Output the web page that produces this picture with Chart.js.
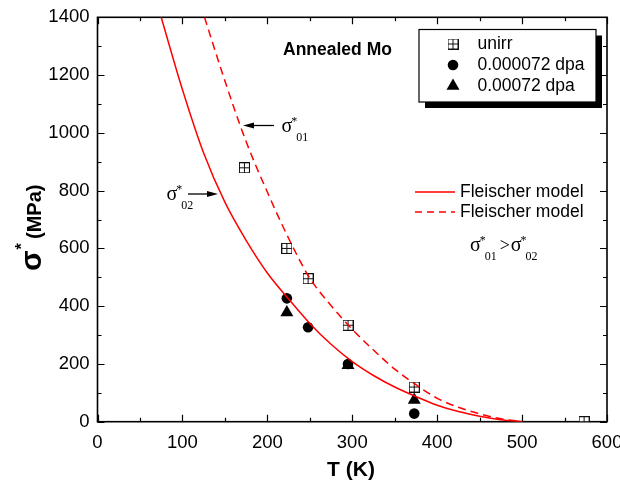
<!DOCTYPE html>
<html>
<head>
<meta charset="utf-8">
<script src="https://cdn.jsdelivr.net/npm/chart.js@4.4.0/dist/chart.umd.min.js"></script>
<style>
  html, body { margin: 0; padding: 0; background: #fff; }
  #wrap { width: 620px; height: 483px; }
</style>
</head>
<body>
<div id="wrap"><canvas id="grafico" width="620" height="483"></canvas></div>
<script>
// datos: T (K) y tension efectiva (MPa)
const unirrT = [173, 223, 248, 295, 373, 573];
const unirrS = [879, 600, 495, 334, 120, 0];
const dpa1T = [223, 248, 295, 373];          // 0.000072 dpa
const dpa1S = [427, 327, 200, 28];
const dpa2T = [223, 295, 373];               // 0.00072 dpa
const dpa2S = [378, 195, 75];

// modelo de Fleischer (sigma*02, linea continua)
const solidT = [75, 100, 125, 150, 175, 200, 225, 250, 275, 300, 325, 350, 375, 400, 425, 450, 475, 500];
const solidS = [1400, 1150, 930, 760, 628, 515, 425, 340, 268, 208, 160, 120, 87, 57, 35, 19, 7, 0];
// modelo de Fleischer (sigma*01, linea discontinua)
const dashT = [126, 150, 175, 200, 225, 250, 275, 300, 325, 350, 375, 400, 425, 450, 475, 500];
const dashS = [1400, 1180, 970, 795, 635, 497, 402, 320, 248, 182, 128, 81, 50, 27, 10, 0];

const xTicks = [0, 100, 200, 300, 400, 500, 600];
const yTicks = [0, 200, 400, 600, 800, 1000, 1200, 1400];
const legendLabels = ['unirr', '0.000072 dpa', '0.00072 dpa'];
const modelLabel = 'Fleischer model';

const pts = (xs, ys) => xs.map((t, i) => ({ x: t, y: ys[i] }));

// marcador "cuadrado con cruz"
function hacerCuadro() {
  const c = document.createElement('canvas');
  c.width = 11; c.height = 11;
  const g = c.getContext('2d');
  g.fillStyle = '#fff';
  g.fillRect(0, 0, 11, 11);
  g.strokeStyle = '#111';
  g.lineWidth = 1;
  g.strokeRect(0.5, 0.5, 10, 10);
  g.beginPath();
  g.moveTo(5.5, 0.5); g.lineTo(5.5, 10.5);
  g.moveTo(0.5, 5.5); g.lineTo(10.5, 5.5);
  g.stroke();
  return c;
}
const cuadro = hacerCuadro();

const SANS = 'Arial, "Liberation Sans", sans-serif';
const SERIF = '"Liberation Serif", "Times New Roman", serif';
Chart.defaults.font.family = SANS;
Chart.defaults.color = '#000';

function sigma(ctx, x, yb, sub) {
  ctx.textAlign = 'left';
  ctx.textBaseline = 'alphabetic';
  ctx.font = '20px ' + SERIF;
  ctx.fillText('σ', x, yb);
  const w = ctx.measureText('σ').width;
  ctx.font = '12px ' + SERIF;
  ctx.fillText('*', x + w - 1, yb - 7);
  ctx.fillText(sub, x + w + 4, yb + 9);
  return x + w + 4 + ctx.measureText(sub).width;
}

function flecha(ctx, x1, x2, y) {
  const d = x2 > x1 ? 1 : -1;
  ctx.lineWidth = 1.3;
  ctx.beginPath();
  ctx.moveTo(x1, y); ctx.lineTo(x2 - d * 8, y);
  ctx.stroke();
  ctx.beginPath();
  ctx.moveTo(x2, y);
  ctx.lineTo(x2 - d * 11, y - 3);
  ctx.lineTo(x2 - d * 11, y + 3);
  ctx.closePath();
  ctx.fill();
}

const marco = {
  id: 'marco',
  beforeDatasetsDraw(chart) {
    const { ctx, chartArea: a, scales: { x, y } } = chart;
    ctx.save();
    ctx.strokeStyle = '#000';
    ctx.lineWidth = 1.2;
    ctx.beginPath();
    for (let v = 0; v <= 600; v += 50) {
      const px = Math.round(x.getPixelForValue(v)) + 0.5;
      const len = v % 100 === 0 ? 7 : 4;
      ctx.moveTo(px, a.bottom); ctx.lineTo(px, a.bottom - len);
      ctx.moveTo(px, a.top); ctx.lineTo(px, a.top + len);
    }
    for (let v = 0; v <= 1400; v += 100) {
      const py = Math.round(y.getPixelForValue(v)) + 0.5;
      const len = v % 200 === 0 ? 7 : 4;
      ctx.moveTo(a.left, py); ctx.lineTo(a.left + len, py);
      ctx.moveTo(a.right, py); ctx.lineTo(a.right - len, py);
    }
    ctx.stroke();
    ctx.lineWidth = 1.6;
    ctx.strokeRect(a.left, a.top, a.right - a.left, a.bottom - a.top);
    ctx.restore();
  },
  afterDraw(chart) {
    const { ctx } = chart;
    ctx.save();
    ctx.fillStyle = '#000';
    ctx.strokeStyle = '#000';

    // titulo eje x
    ctx.font = 'bold 21px ' + SANS;
    ctx.textAlign = 'center';
    ctx.textBaseline = 'middle';
    ctx.fillText('T (K)', 351, 470);

    // titulo eje y
    ctx.save();
    ctx.translate(41, 271);
    ctx.rotate(-Math.PI / 2);
    ctx.textAlign = 'left';
    ctx.textBaseline = 'alphabetic';
    ctx.font = 'bold 30px ' + SANS;
    ctx.fillText('σ', 0, 0);
    const ws = ctx.measureText('σ').width;
    ctx.font = 'bold 16px ' + SANS;
    ctx.fillText('*', ws + 1, -14);
    ctx.font = 'bold 20px ' + SANS;
    ctx.fillText('(MPa)', 32, 0);
    ctx.restore();

    // texto dentro del grafico
    ctx.font = 'bold 17.5px ' + SANS;
    ctx.textAlign = 'left';
    ctx.textBaseline = 'middle';
    ctx.fillText('Annealed Mo', 283, 50);

    sigma(ctx, 281.5, 131.5, '01');
    flecha(ctx, 274, 243, 125.5);
    sigma(ctx, 166.5, 200, '02');
    flecha(ctx, 188, 218, 194);

    let xx = sigma(ctx, 470, 251, '01');
    ctx.font = '18px ' + SERIF;
    ctx.fillText('>', xx + 3, 251);
    sigma(ctx, xx + 14, 251, '02');

    // leyenda del modelo
    ctx.strokeStyle = '#ff0000';
    ctx.lineWidth = 1.5;
    ctx.beginPath();
    ctx.moveTo(415, 192); ctx.lineTo(455, 192);
    ctx.stroke();
    ctx.setLineDash([7, 5]);
    ctx.beginPath();
    ctx.moveTo(415, 212); ctx.lineTo(455, 212);
    ctx.stroke();
    ctx.setLineDash([]);
    ctx.font = '17.5px ' + SANS;
    ctx.textBaseline = 'middle';
    ctx.fillText(modelLabel, 460, 192);
    ctx.fillText(modelLabel, 460, 212);

    // leyenda de puntos con sombra
    ctx.fillStyle = '#000';
    ctx.fillRect(425, 35.5, 177, 72.5);
    ctx.fillStyle = '#fff';
    ctx.fillRect(419, 29.5, 177, 72.5);
    ctx.strokeStyle = '#000';
    ctx.lineWidth = 1.2;
    ctx.strokeRect(419, 29.5, 177, 72.5);
    ctx.fillStyle = '#000';
    const filas = [44, 65, 86];
    ctx.drawImage(cuadro, 453 - 5.5, filas[0] - 5.5);
    ctx.beginPath();
    ctx.arc(453, filas[1], 5.3, 0, Math.PI * 2);
    ctx.fill();
    ctx.beginPath();
    ctx.moveTo(453, filas[2] - 7.5);
    ctx.lineTo(453 + 6.5, filas[2] + 3.75);
    ctx.lineTo(453 - 6.5, filas[2] + 3.75);
    ctx.closePath();
    ctx.fill();
    ctx.font = '17.5px ' + SANS;
    legendLabels.forEach((t, i) => ctx.fillText(t, 477.5, filas[i]));
    ctx.restore();
  }
};

const ctx = document.getElementById('grafico');

const data = {
  datasets: [
    {
      label: 'sigma01',
      data: pts(dashT, dashS),
      showLine: true,
      borderColor: '#ff0000',
      borderWidth: 1.5,
      borderDash: [8, 5],
      pointRadius: 0,
      cubicInterpolationMode: 'monotone'
    },
    {
      label: 'sigma02',
      data: pts(solidT, solidS),
      showLine: true,
      borderColor: '#ff0000',
      borderWidth: 1.5,
      pointRadius: 0,
      cubicInterpolationMode: 'monotone'
    },
    {
      label: legendLabels[0],
      data: pts(unirrT, unirrS),
      pointStyle: cuadro,
      pointRadius: 6
    },
    {
      label: legendLabels[2],
      data: pts(dpa2T, dpa2S),
      pointStyle: 'triangle',
      pointRadius: 7.5,
      backgroundColor: '#000',
      borderColor: '#000',
      borderWidth: 0
    },
    {
      label: legendLabels[1],
      data: pts(dpa1T, dpa1S),
      pointStyle: 'circle',
      pointRadius: 5.3,
      backgroundColor: '#000',
      borderColor: '#000',
      borderWidth: 0
    }
  ]
};

const config = {
  type: 'scatter',
  data: data,
  options: {
    responsive: false,
    animation: false,
    layout: { padding: { top: 17.3, right: 13, left: 0, bottom: 0 } },
    plugins: {
      legend: { display: false },
      tooltip: { enabled: false }
    },
    scales: {
      x: {
        type: 'linear',
        min: 0,
        max: 600,
        afterBuildTicks: s => { s.ticks = xTicks.map(v => ({ value: v })); },
        afterFit: s => {
          s.height = 483 - 421.7;
          s.paddingLeft = 0;
          s.paddingRight = 0;
        },
        grid: { display: false, drawTicks: false },
        border: { display: false },
        ticks: { padding: 10, maxRotation: 0, font: { size: 18.5 }, color: '#000', callback: v => String(v) }
      },
      y: {
        type: 'linear',
        min: 0,
        max: 1400,
        afterBuildTicks: s => { s.ticks = yTicks.map(v => ({ value: v })); },
        afterFit: s => {
          s.width = 97.5;
          s.paddingTop = 0;
          s.paddingBottom = 0;
        },
        grid: { display: false, drawTicks: false },
        border: { display: false },
        ticks: { padding: 8, font: { size: 18.5 }, color: '#000', callback: v => String(v) }
      }
    }
  },
  plugins: [marco]
};

const miGrafico = new Chart(ctx, config);
</script>
</body>
</html>
